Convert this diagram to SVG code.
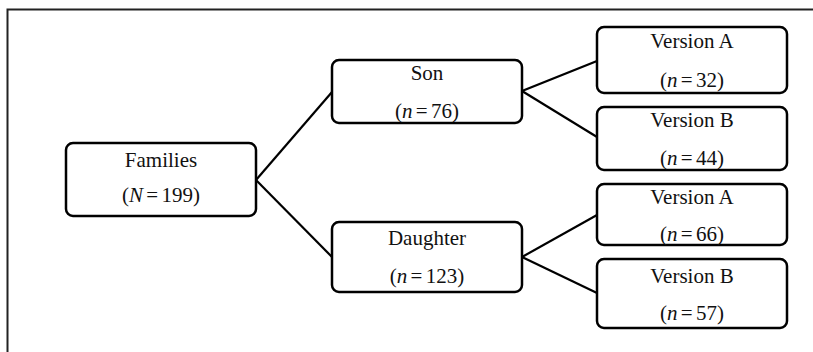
<svg xmlns="http://www.w3.org/2000/svg" width="813" height="352" viewBox="0 0 813 352">
<style>
.box{fill:#fff;stroke:#000;stroke-width:2.5}
.t{font-family:"Liberation Serif","Times New Roman",serif;font-size:21px;fill:#111;text-anchor:middle}
.n{word-spacing:-2px}
.i{font-style:italic}
.c{stroke:#000;stroke-width:2.2;fill:none}
</style>
<rect width="813" height="352" fill="#fff"/>
<path d="M7.5,352 V9.5 H813" fill="none" stroke="#222" stroke-width="2"/>
<g id="connectors">
<line class="c" x1="256" y1="180" x2="332" y2="92"/>
<line class="c" x1="256" y1="180" x2="332" y2="257"/>
<line class="c" x1="522" y1="91" x2="597" y2="61"/>
<line class="c" x1="522" y1="91" x2="597" y2="137"/>
<line class="c" x1="522" y1="257" x2="597" y2="215"/>
<line class="c" x1="522" y1="257" x2="597" y2="293"/>
</g>
<g id="families">
<rect class="box" x="66" y="143" width="190" height="73" rx="7"/>
<text class="t" x="161" y="167">Families</text>
<text class="t n" x="161" y="202">(<tspan class="i">N</tspan> = 199)</text>
</g>
<g id="son">
<rect class="box" x="332" y="60" width="190" height="63" rx="7"/>
<text class="t" x="427" y="80">Son</text>
<text class="t n" x="427" y="118">(<tspan class="i">n</tspan> = 76)</text>
</g>
<g id="daughter">
<rect class="box" x="332" y="222" width="190" height="70" rx="7"/>
<text class="t" x="427" y="245">Daughter</text>
<text class="t n" x="427" y="283">(<tspan class="i">n</tspan> = 123)</text>
</g>
<g id="son-version-a">
<rect class="box" x="597" y="27" width="190" height="66" rx="7"/>
<text class="t" x="692" y="48">Version A</text>
<text class="t n" x="692" y="87">(<tspan class="i">n</tspan> = 32)</text>
</g>
<g id="son-version-b">
<rect class="box" x="597" y="107" width="190" height="63" rx="7"/>
<text class="t" x="692" y="127">Version B</text>
<text class="t n" x="692" y="165">(<tspan class="i">n</tspan> = 44)</text>
</g>
<g id="daughter-version-a">
<rect class="box" x="597" y="184" width="190" height="61" rx="7"/>
<text class="t" x="692" y="204">Version A</text>
<text class="t n" x="692" y="241">(<tspan class="i">n</tspan> = 66)</text>
</g>
<g id="daughter-version-b">
<rect class="box" x="597" y="259" width="190" height="69" rx="7"/>
<text class="t" x="692" y="283">Version B</text>
<text class="t n" x="692" y="320">(<tspan class="i">n</tspan> = 57)</text>
</g>
</svg>
